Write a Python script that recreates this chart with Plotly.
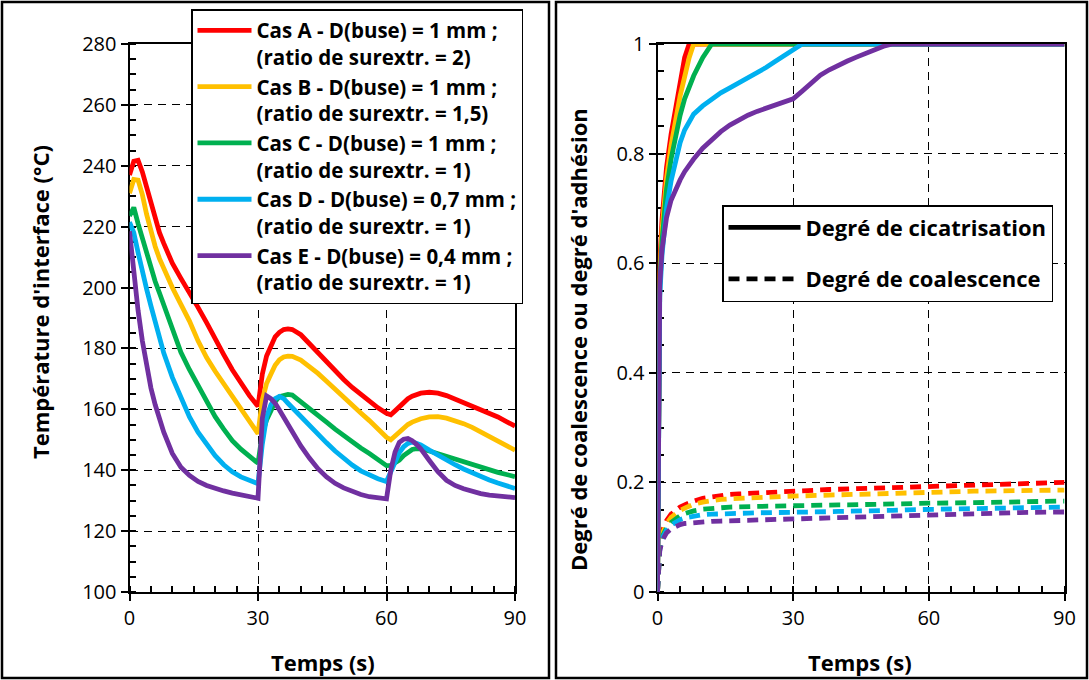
import plotly.graph_objects as go

# ---------------- data ----------------
T_LEFT = [0, 1, 2, 3, 4, 5, 6, 7, 8, 10, 12, 14, 16, 18, 20, 22, 24, 26, 28, 30,
          31, 32, 33, 34, 35, 36, 37, 38, 40, 42, 44, 46, 48, 50, 52, 54, 56, 58, 60,
          61, 62, 63, 64, 65, 66, 67, 68, 70, 72, 74, 76, 78, 80, 82, 84, 86, 88, 90]

TEMP_A = [237, 241.5, 241.8, 238, 233, 227.5, 222, 218, 214.5, 208, 203, 198.5, 193.5, 188.5, 183, 178, 173, 168.5, 164.5, 161,
          171.5, 177.5, 181, 183.8, 185.3, 186.2, 186.4, 186.2, 184.5, 181.5, 178.5, 175.3, 172.4, 169.8, 167.2, 164.8, 162.5, 160.5, 158.7,
          158.2, 159.5, 161, 162.4, 163.5, 164.3, 164.9, 165.3, 165.6, 165.3, 164.5, 163.4, 162.3, 161.2, 160.1, 158.9, 157.5, 156, 154.5]
TEMP_B = [231, 235.5, 235.3, 230.5, 224, 218.5, 213.5, 209.5, 206, 200, 194.5, 189, 182.5, 177, 172.5, 168.3, 164.3, 160.2, 156, 152,
          163, 168.5, 171.5, 174.5, 176.3, 177.2, 177.5, 177.4, 176.2, 174.2, 171.8, 169.2, 166.5, 163.8, 161.3, 158.8, 156.3, 153.6, 150.8,
          150, 151.2, 152.8, 154, 155, 155.8, 156.4, 156.9, 157.5, 157.6, 157.1, 156.3, 155.3, 154.1, 152.6, 151.1, 149.6, 148.1, 146.6]
TEMP_C = [223.5, 226.3, 221, 216, 211, 206.3, 202, 198.2, 194.2, 186, 178.7, 173, 167.6, 162.3, 157.6, 153.5, 149.7, 146.9, 144.4, 142.3,
          152, 156.5, 159.5, 162.5, 164.2, 164.7, 164.9, 164.7, 162.6, 160.2, 158.2, 155.8, 153.5, 151.3, 149.2, 147.3, 145.5, 143.6, 141.5,
          141.6, 142.3, 143.3, 144.8, 146, 146.8, 147.1, 147, 146.3, 145.4, 144.4, 143.5, 142.6, 141.8, 140.9, 140.1, 139.3, 138.6, 137.9]
TEMP_D = [221.5, 218, 211.5, 205, 199.5, 194, 189, 183.5, 178.5, 170.5, 163.5, 157.5, 152.5, 148.3, 144.8, 141.8, 139.5, 137.8, 136.5, 135.6,
          148.5, 157.5, 161.5, 163.5, 164.2, 163.5, 162, 160.5, 158, 155, 152, 149, 146.3, 143.8, 141.7, 139.8, 138.3, 137.2, 136.3,
          139.5, 143, 145.8, 147.7, 148.8, 149.3, 149, 148.3, 146.6, 144.9, 143.3, 141.8, 140.4, 139.1, 137.9, 136.8, 135.8, 134.9, 134]
TEMP_E = [218.5, 205, 192.5, 182.5, 174, 167, 161.5, 157, 152.5, 145.5, 141, 138.3, 136.3, 135, 134, 133.2, 132.5, 132, 131.5, 130.8,
          157, 164.4, 163.5, 162, 159.8, 157.4, 155, 152.5, 148, 144, 140.5, 137.8, 135.7, 134.2, 133, 132, 131.3, 130.9, 130.6,
          140, 146, 149.2, 150.2, 150.4, 149.7, 148.5, 147, 143.2, 139.5, 136.7, 135, 133.9, 133, 132.3, 131.8, 131.4, 131.2, 131]

T_RIGHT = [0, 0.2, 0.5, 1, 1.5, 2, 3, 4, 5, 6, 7, 8, 10, 12, 14, 16, 18, 20, 22, 24, 26, 28, 30,
           32, 34, 36, 38, 40, 42, 44, 46, 48, 50, 52, 55, 60, 70, 80, 90]

CIC_A = [0, 0.5, 0.6, 0.68, 0.735, 0.775, 0.835, 0.885, 0.93, 0.975, 1, 1, 1, 1, 1, 1, 1, 1, 1, 1, 1, 1, 1,
         1, 1, 1, 1, 1, 1, 1, 1, 1, 1, 1, 1, 1, 1, 1, 1]
CIC_B = [0, 0.47, 0.58, 0.66, 0.715, 0.755, 0.815, 0.865, 0.905, 0.94, 0.975, 1, 1, 1, 1, 1, 1, 1, 1, 1, 1, 1, 1,
         1, 1, 1, 1, 1, 1, 1, 1, 1, 1, 1, 1, 1, 1, 1, 1]
CIC_C = [0, 0.45, 0.56, 0.64, 0.695, 0.735, 0.79, 0.835, 0.87, 0.9, 0.922, 0.942, 0.975, 1, 1, 1, 1, 1, 1, 1, 1, 1, 1,
         1, 1, 1, 1, 1, 1, 1, 1, 1, 1, 1, 1, 1, 1, 1, 1]
CIC_D = [0, 0.43, 0.54, 0.615, 0.665, 0.7, 0.75, 0.79, 0.82, 0.843, 0.86, 0.872, 0.887, 0.9, 0.911, 0.92, 0.929, 0.938, 0.946, 0.957, 0.968, 0.979, 0.99,
         1, 1, 1, 1, 1, 1, 1, 1, 1, 1, 1, 1, 1, 1, 1, 1]
CIC_E = [0, 0.45, 0.56, 0.625, 0.66, 0.683, 0.715, 0.735, 0.752, 0.767, 0.779, 0.79, 0.81, 0.826, 0.84, 0.852, 0.862, 0.87, 0.877, 0.883, 0.889, 0.895, 0.9,
         0.914, 0.93, 0.943, 0.953, 0.962, 0.969, 0.976, 0.983, 0.99, 0.996, 1, 1, 1, 1, 1, 1]

COAL_A = [0, 0.06, 0.09, 0.11, 0.122, 0.13, 0.142, 0.149, 0.155, 0.159, 0.163, 0.166,
          0.171, 0.174, 0.176, 0.178, 0.179, 0.18, 0.181, 0.1815, 0.182, 0.183, 0.1835,
          0.184, 0.185, 0.186, 0.187, 0.1875, 0.188, 0.1885, 0.189, 0.19, 0.1905, 0.191,
          0.192, 0.1935, 0.196, 0.198, 0.2]
COAL_B = [0, 0.055, 0.085, 0.105, 0.117, 0.125, 0.136, 0.143, 0.149, 0.153, 0.157, 0.16,
          0.164, 0.167, 0.169, 0.17, 0.171, 0.172, 0.1725, 0.173, 0.174, 0.1745, 0.175,
          0.1755, 0.176, 0.1765, 0.177, 0.178, 0.1785, 0.179, 0.1795, 0.18, 0.18, 0.1805,
          0.181, 0.182, 0.184, 0.185, 0.186]
COAL_C = [0, 0.05, 0.08, 0.1, 0.11, 0.117, 0.127, 0.134, 0.139, 0.143, 0.146, 0.148,
          0.151, 0.153, 0.154, 0.155, 0.1555, 0.156, 0.156, 0.1565, 0.1565, 0.157, 0.157,
          0.1575, 0.158, 0.158, 0.1585, 0.159, 0.159, 0.1595, 0.16, 0.16, 0.1605, 0.161,
          0.161, 0.162, 0.163, 0.165, 0.166]
COAL_D = [0, 0.05, 0.078, 0.097, 0.107, 0.113, 0.122, 0.128, 0.132, 0.135, 0.137, 0.139,
          0.141, 0.142, 0.143, 0.1435, 0.144, 0.144, 0.1445, 0.1445, 0.145, 0.145, 0.145,
          0.1455, 0.146, 0.146, 0.1465, 0.147, 0.147, 0.1475, 0.148, 0.1485, 0.149, 0.149,
          0.15, 0.151, 0.152, 0.154, 0.155]
COAL_E = [0, 0.05, 0.075, 0.093, 0.102, 0.108, 0.115, 0.12, 0.123, 0.125, 0.126, 0.127,
          0.128, 0.129, 0.1295, 0.13, 0.1305, 0.131, 0.1315, 0.132, 0.1325, 0.133, 0.134,
          0.1345, 0.135, 0.1355, 0.136, 0.137, 0.1375, 0.138, 0.1385, 0.1385, 0.139, 0.139,
          0.14, 0.141, 0.143, 0.145, 0.146]

CASE_LABELS = [
    "Cas A - D(buse) = 1 mm ;<br>(ratio de surextr. = 2)",
    "Cas B - D(buse) = 1 mm ;<br>(ratio de surextr. = 1,5)",
    "Cas C - D(buse) = 1 mm ;<br>(ratio de surextr. = 1)",
    "Cas D - D(buse) = 0,7 mm ;<br>(ratio de surextr. = 1)",
    "Cas E - D(buse) = 0,4 mm ;<br>(ratio de surextr. = 1)",
]
RIGHT_LEGEND = ["Degré de cicatrisation", "Degré de coalescence"]

TEMPS = [TEMP_A, TEMP_B, TEMP_C, TEMP_D, TEMP_E]
CICS = [CIC_A, CIC_B, CIC_C, CIC_D, CIC_E]
COALS = [COAL_A, COAL_B, COAL_C, COAL_D, COAL_E]
for s in TEMPS:
    assert len(s) == len(T_LEFT), len(s)
for s in CICS + COALS:
    assert len(s) == len(T_RIGHT), len(s)

# ---------------- style ----------------
COLORS = ["#FF0000", "#FFC000", "#00B050", "#00B0F0", "#7030A0"]
FONT = "Open Sans"
W, H = 1089, 680

fig = go.Figure()

for lab, col, y in zip(CASE_LABELS, COLORS, TEMPS):
    fig.add_trace(go.Scatter(x=T_LEFT, y=y, mode="lines", name=lab,
                             line=dict(color=col, width=4.8),
                             xaxis="x", yaxis="y", legend="legend"))

for col, y in zip(COLORS, COALS):
    fig.add_trace(go.Scatter(x=T_RIGHT, y=y, mode="lines", showlegend=False,
                             line=dict(color=col, width=4.8, dash="11px,7px"),
                             xaxis="x2", yaxis="y2"))
for col, y in zip(COLORS, CICS):
    fig.add_trace(go.Scatter(x=T_RIGHT, y=y, mode="lines", showlegend=False,
                             line=dict(color=col, width=4.8),
                             xaxis="x2", yaxis="y2"))

fig.add_trace(go.Scatter(x=[None], y=[None], mode="lines", name=RIGHT_LEGEND[0],
                         line=dict(color="black", width=4.8), legendgroup="g1",
                         xaxis="x2", yaxis="y2", legend="legend2"))
fig.add_trace(go.Scatter(x=[None], y=[None], mode="lines", name=RIGHT_LEGEND[1],
                         line=dict(color="black", width=4.8, dash="11px,7px"), legendgroup="g2",
                         xaxis="x2", yaxis="y2", legend="legend2"))


def ax(rng, dtick, minor_dtick, domain, anchor):
    return dict(range=rng, dtick=dtick, tick0=rng[0], domain=domain, anchor=anchor,
                automargin=False,
                showline=True, linecolor="black", linewidth=2, mirror=True,
                ticks="outside", ticklen=7, tickwidth=1.5, tickcolor="black",
                showgrid=True, gridcolor="black", gridwidth=1.3, griddash="8px,6px",
                zeroline=False, layer="below traces",
                tickfont=dict(family=FONT, size=20, color="black"),
                minor=dict(ticks="inside", ticklen=6, tickwidth=1.5, tickcolor="black",
                           dtick=minor_dtick, tick0=rng[0], showgrid=False))


ydom = [1 - 592 / H, 1 - 44 / H]
BOLD = dict(family=FONT, size=22, color="black", weight="bold")
fig.update_layout(
    width=W, height=H, margin=dict(l=0, r=0, t=0, b=0, autoexpand=False),
    paper_bgcolor="white", plot_bgcolor="white",
    xaxis=ax([0, 90], 30, 5, [129.5 / W, 515 / W], "y"),
    yaxis=ax([100, 280], 20, 5, ydom, "x"),
    xaxis2=ax([0, 90], 30, 5, [657.5 / W, 1064.5 / W], "y2"),
    yaxis2=ax([0, 1], 0.2, 0.05, ydom, "x2"),
    legend=dict(x=191 / W, y=1 - 9 / H, xanchor="left", yanchor="top",
                bgcolor="white", bordercolor="black", borderwidth=1.5,
                font=dict(family=FONT, size=20.5, color="black", weight="bold"),
                valign="top", tracegroupgap=0, itemwidth=54),
    legend2=dict(x=722 / W, y=1 - 205 / H, xanchor="left", yanchor="top",
                 bgcolor="white", bordercolor="black", borderwidth=1.5,
                 font=dict(family=FONT, size=22, color="black", weight="bold"),
                 tracegroupgap=20, itemwidth=72),
    shapes=[
        dict(type="rect", xref="paper", yref="paper", x0=2 / W, x1=549 / W,
             y0=1 - 678 / H, y1=1 - 2 / H, line=dict(color="black", width=2.5)),
        dict(type="rect", xref="paper", yref="paper", x0=556 / W, x1=1087 / W,
             y0=1 - 678 / H, y1=1 - 2 / H, line=dict(color="black", width=2.5)),
    ],
    annotations=[
        dict(text="Température d'interface (°C)", x=40 / W, y=1 - 302 / H, xref="paper", yref="paper",
             textangle=-90, showarrow=False, xanchor="center", yanchor="middle", font=BOLD),
        dict(text="Degré de coalescence ou degré d'adhésion", x=578 / W, y=1 - 340 / H, xref="paper", yref="paper",
             textangle=-90, showarrow=False, xanchor="center", yanchor="middle", font=BOLD),
        dict(text="Temps (s)", x=323 / W, y=1 - 662 / H, xref="paper", yref="paper",
             showarrow=False, xanchor="center", yanchor="middle", font=BOLD),
        dict(text="Temps (s)", x=860 / W, y=1 - 662 / H, xref="paper", yref="paper",
             showarrow=False, xanchor="center", yanchor="middle", font=BOLD),
    ],
)

fig.write_html("out.html", config={"displayModeBar": False},
               post_script="document.body.style.margin='0';document.documentElement.style.overflow='hidden';")
